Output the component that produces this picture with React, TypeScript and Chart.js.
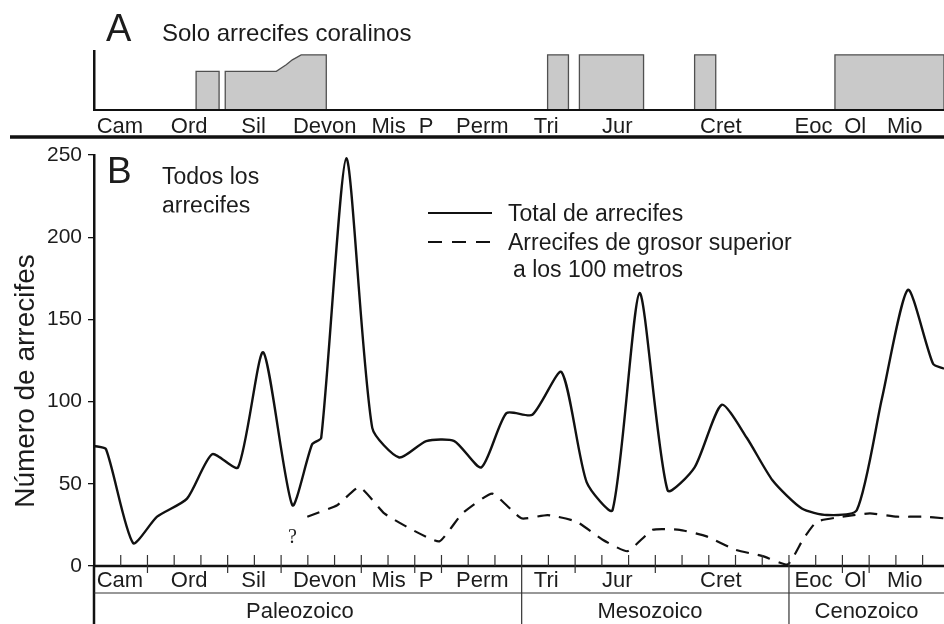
import React, { useEffect, useRef } from "react";
import { Chart, registerables } from "chart.js";
Chart.register(...registerables);

const FONT = '"Liberation Sans", Arial, Helvetica, sans-serif';
const SERIF = '"Liberation Serif", "Times New Roman", serif';

// x is measured in time-slices (one tick = one slice)
const xMin = 0;
const xMax = 31.8;
const sliceTicks = 31;

const periodNames = ["Cam", "Ord", "Sil", "Devon", "Mis", "P", "Perm", "Tri", "Jur", "Cret", "Eoc", "Ol", "Mio"];
const periodLabelX = [0.97, 3.56, 5.97, 8.63, 11.02, 12.42, 14.53, 16.92, 19.58, 23.45, 26.92, 28.48, 30.33];
const periodBoundaries = [2, 5, 7, 10, 12, 13, 18, 21, 28, 29];
const eraNames = ["Paleozoico", "Mesozoico", "Cenozoico"];
const eraLabelX = [7.7, 20.8, 28.9];
const eraBoundaries = [16, 26];

// Panel B: total number of reefs
const totalX = [0, 0.45, 1.46, 2.36, 3.48, 4.42, 5.39, 6.33, 7.42, 8.16, 8.5, 9.44, 10.41, 11.42, 12.43, 13.48, 14.49, 15.43, 16.4, 17.49, 18.43, 19.4, 20.41, 21.46, 22.47, 23.48, 24.42, 25.39, 26.48, 27.42, 28.54, 29.48, 30.45, 31.39, 31.8];
const totalY = [73, 71, 14, 30, 41, 68, 60, 130, 37, 74, 78, 248, 84, 66, 76, 76, 60, 93, 92, 118, 51, 34, 166, 46, 60, 98, 78, 52, 35, 31, 34, 102, 168, 123, 120];

// Panel B: reefs thicker than 100 m
const thickX = [7.98, 9.1, 9.93, 10.86, 11.91, 12.92, 13.78, 14.9, 15.99, 16.97, 18.05, 19.03, 19.96, 20.9, 21.91, 22.92, 23.97, 25.02, 25.96, 26.52, 27.04, 28.01, 29.03, 30.04, 31.01, 31.8];
const thickY = [30, 37, 48, 32, 22, 15, 32, 44, 29, 31, 27, 16, 9, 22, 22, 18, 10, 6, 1, 16, 27, 30, 32, 30, 30, 29];

const yMax = 250;
const yStep = 50;

// Panel A: coral-only reef intervals (relative abundance)
const coralX = [
  [3.82, 3.82, 4.68, 4.68],
  [4.91, 4.91, 6.82, 7.19, 7.42, 7.75, 8.69, 8.69],
  [16.97, 16.97, 17.75, 17.75],
  [18.16, 18.16, 20.56, 20.56],
  [22.47, 22.47, 23.26, 23.26],
  [27.72, 27.72, 31.8, 31.8],
];
const coralY = [
  [0, 0.7, 0.7, 0],
  [0, 0.7, 0.7, 0.82, 0.91, 1, 1, 0],
  [0, 1, 1, 0],
  [0, 1, 1, 0],
  [0, 1, 1, 0],
  [0, 1, 1, 0],
];

const INK = "#111";
const TEXT = "#1c1c1c";

function line(ctx: CanvasRenderingContext2D, x1: number, y1: number, x2: number, y2: number) {
  ctx.beginPath();
  ctx.moveTo(x1, y1);
  ctx.lineTo(x2, y2);
  ctx.stroke();
}

export default function App() {
  const refA = useRef<HTMLCanvasElement>(null);
  const refB = useRef<HTMLCanvasElement>(null);

  useEffect(() => {
    const decoB = {
      id: "decoB",
      afterDraw(chart: any) {
        const { ctx, chartArea, scales } = chart;
        const { left, right } = chartArea;
        const x = scales.x;
        const y = scales.y;
        const y0 = y.getPixelForValue(0);
        const H = chart.height;
        ctx.save();
        ctx.strokeStyle = INK;
        ctx.lineWidth = 2.5;
        line(ctx, left, y0, right, y0);
        line(ctx, left, y0, left, H);
        ctx.lineWidth = 1.2;
        ctx.strokeStyle = "#333";
        for (let k = 1; k <= sliceTicks; k++) {
          const px = x.getPixelForValue(k);
          line(ctx, px, y0 - 11, px, y0);
        }
        periodBoundaries.forEach((b) => {
          const px = x.getPixelForValue(b);
          line(ctx, px, y0, px, y0 + 7);
        });
        eraBoundaries.forEach((b) => {
          const px = x.getPixelForValue(b);
          line(ctx, px, y0, px, H);
        });
        line(ctx, left, y0 + 27, right, y0 + 27);

        ctx.fillStyle = TEXT;
        ctx.textAlign = "center";
        ctx.textBaseline = "alphabetic";
        ctx.font = `22px ${FONT}`;
        periodNames.forEach((n, i) => ctx.fillText(n, x.getPixelForValue(periodLabelX[i]), y0 + 21));
        eraNames.forEach((n, i) => ctx.fillText(n, x.getPixelForValue(eraLabelX[i]), y0 + 52));

        // question mark before the dashed series
        ctx.font = `20px ${SERIF}`;
        ctx.fillText("?", x.getPixelForValue(7.42), y.getPixelForValue(14));

        // panel letter and caption
        ctx.textAlign = "left";
        ctx.font = `37px ${FONT}`;
        ctx.fillText("B", 107, 183);
        ctx.font = `23px ${FONT}`;
        ctx.fillText("Todos los", 162, 184);
        ctx.save();
        ctx.beginPath();
        ctx.rect(150, 190, 160, 22.5);
        ctx.clip();
        ctx.fillText("arrecifes", 162, 213);
        ctx.restore();

        // legend
        ctx.strokeStyle = INK;
        ctx.lineWidth = 2.2;
        line(ctx, 428, 213, 492, 213);
        ctx.setLineDash([14, 10]);
        line(ctx, 428, 242, 492, 242);
        ctx.setLineDash([]);
        ctx.font = `23px ${FONT}`;
        ctx.fillText("Total de arrecifes", 508, 221);
        ctx.fillText("Arrecifes de grosor superior", 508, 250);
        ctx.fillText("a los 100 metros", 513, 277);

        // y title
        ctx.save();
        ctx.translate(34, 381);
        ctx.rotate(-Math.PI / 2);
        ctx.textAlign = "center";
        ctx.font = `28px ${FONT}`;
        ctx.fillText("Número de arrecifes", 0, 0);
        ctx.restore();
        ctx.restore();
      },
    };

    const chartB = new Chart(refB.current!, {
      type: "line",
      data: {
        datasets: [
          {
            label: "Total de arrecifes",
            data: totalX.map((v, i) => ({ x: v, y: totalY[i] })),
            borderColor: INK,
            borderWidth: 2.4,
            pointRadius: 0,
            tension: 0.22,
            fill: false,
          },
          {
            label: "Arrecifes de grosor superior a los 100 metros",
            data: thickX.map((v, i) => ({ x: v, y: thickY[i] })),
            borderColor: INK,
            borderWidth: 2.2,
            borderDash: [13, 9],
            pointRadius: 0,
            tension: 0.15,
            fill: false,
          },
        ],
      },
      options: {
        responsive: false,
        animation: false,
        devicePixelRatio: 1,
        layout: { padding: { top: 155, bottom: 58, left: 0, right: 0 } },
        plugins: { legend: { display: false }, tooltip: { enabled: false } },
        scales: {
          x: { type: "linear", min: xMin, max: xMax, display: false },
          y: {
            min: 0,
            max: yMax,
            afterFit: (scale: any) => {
              scale.width = 94;
            },
            ticks: {
              stepSize: yStep,
              padding: 6,
              color: TEXT,
              font: { family: FONT, size: 21 },
            },
            grid: { drawOnChartArea: false, drawTicks: true, tickLength: 6, color: INK, lineWidth: 1.3 },
            border: { display: true, color: INK, width: 2.5 },
          },
        },
      },
      plugins: [decoB],
    });

    const decoA = {
      id: "decoA",
      afterDraw(chart: any) {
        const { ctx, chartArea, scales } = chart;
        const { left, right } = chartArea;
        const x = scales.x;
        const y0 = scales.y.getPixelForValue(0);
        ctx.save();
        ctx.strokeStyle = INK;
        ctx.lineWidth = 2.2;
        line(ctx, left, y0, right, y0);
        ctx.lineWidth = 3.6;
        line(ctx, 10, 137, right, 137);
        ctx.fillStyle = TEXT;
        ctx.textAlign = "center";
        ctx.textBaseline = "alphabetic";
        ctx.font = `22px ${FONT}`;
        periodNames.forEach((n, i) => ctx.fillText(n, x.getPixelForValue(periodLabelX[i]), y0 + 23));
        ctx.textAlign = "left";
        ctx.font = `38px ${FONT}`;
        ctx.fillText("A", 106, 41);
        ctx.font = `24px ${FONT}`;
        ctx.fillText("Solo arrecifes coralinos", 162, 41);
        ctx.restore();
      },
    };

    const chartA = new Chart(refA.current!, {
      type: "line",
      data: {
        datasets: coralX.map((xs, j) => ({
          label: "Solo arrecifes coralinos " + j,
          data: xs.map((v, i) => ({ x: v, y: coralY[j][i] })),
          borderColor: "#505050",
          borderWidth: 1.3,
          backgroundColor: "#c9c9c9",
          pointRadius: 0,
          tension: 0,
          fill: "origin",
        })),
      },
      options: {
        responsive: false,
        animation: false,
        devicePixelRatio: 1,
        layout: { padding: { top: 51, bottom: 30, left: 0, right: 0 } },
        plugins: { legend: { display: false }, tooltip: { enabled: false }, filler: { propagate: false } },
        scales: {
          x: { type: "linear", min: xMin, max: xMax, display: false },
          y: {
            min: 0,
            max: 1.07,
            afterFit: (scale: any) => {
              scale.width = 94;
            },
            ticks: { display: false },
            grid: { display: false },
            border: { display: true, color: INK, width: 2.5 },
          },
        },
      },
      plugins: [decoA],
    });

    return () => {
      chartA.destroy();
      chartB.destroy();
    };
  }, []);

  return (
    <div style={{ position: "absolute", left: 0, top: 0, width: 944, height: 624, background: "#fff", overflow: "hidden" }}>
      <canvas ref={refB} width={944} height={624} style={{ position: "absolute", left: 0, top: 0 }} />
      <canvas ref={refA} width={944} height={140} style={{ position: "absolute", left: 0, top: 0 }} />
    </div>
  );
}
